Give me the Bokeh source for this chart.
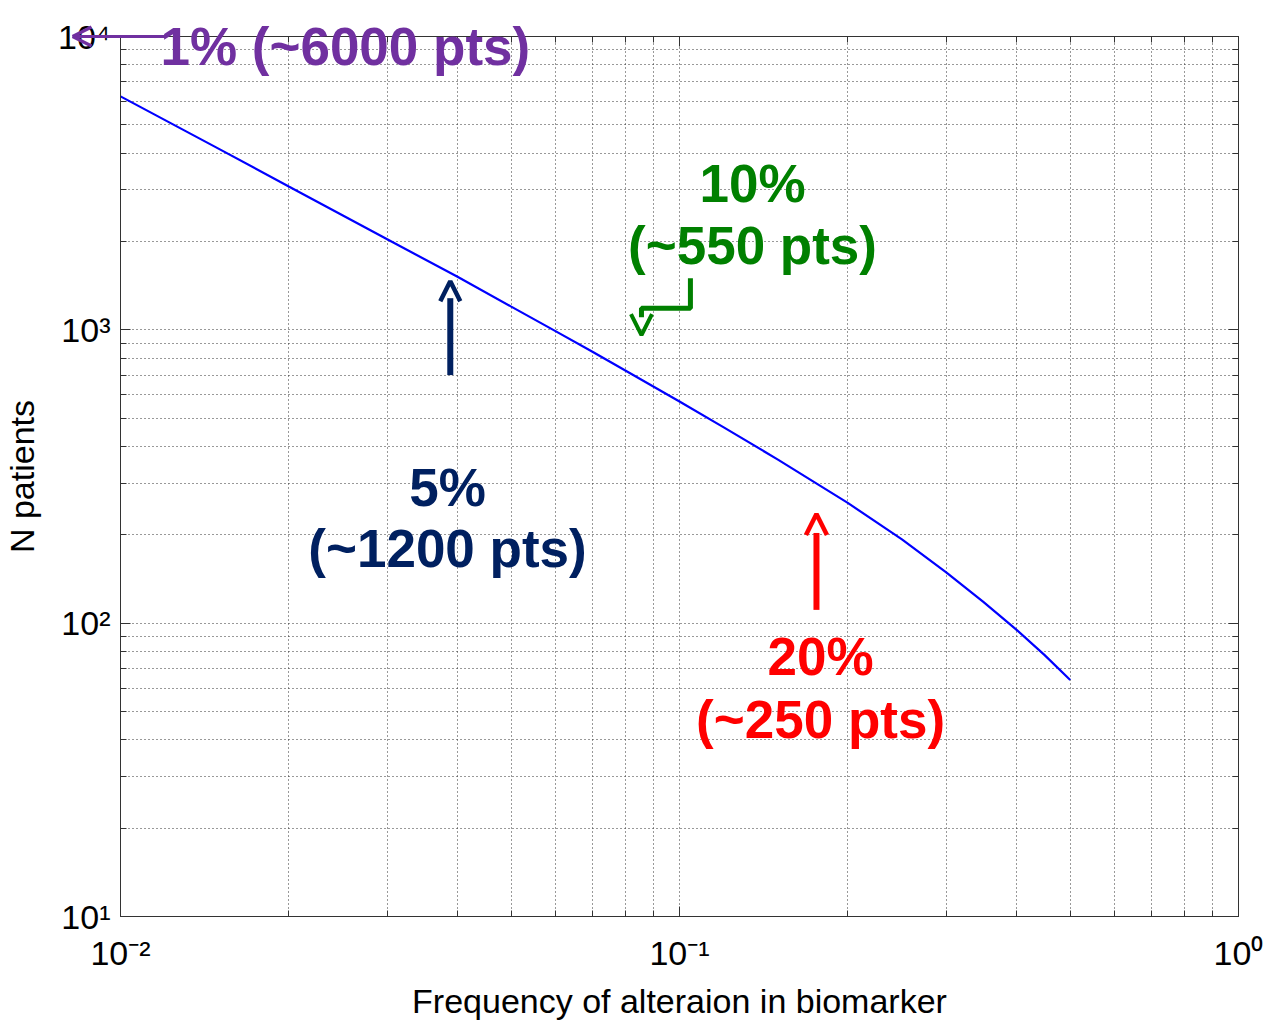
from bokeh.plotting import figure
from bokeh.models import (Arrow, OpenHead, Label, FixedTicker, LogAxis, Range1d)
from bokeh.core.properties import value
from bokeh.embed import file_html
from bokeh.resources import INLINE

# ---- data ----
freq = [0.01, 0.015, 0.02, 0.03, 0.04, 0.05, 0.06, 0.07, 0.08, 0.1, 0.12,
        0.15, 0.2, 0.25, 0.3, 0.35, 0.4, 0.45, 0.5]
n_patients = [6250, 4140, 3080, 2035, 1520, 1200, 990, 840, 727, 570, 465,
              361, 257, 193, 149, 118, 95.2, 77.8, 64]

x_major = [0.01, 0.1, 1.0]
y_major = [10, 100, 1000, 10000]
x_labels = {0.01: "10⁻²", 0.1: "10⁻¹", 1.0: "10⁰"}
y_labels = {10: "10¹", 100: "10²", 1000: "10³", 10000: "10⁴"}

FONT = "Liberation Sans"

FL, FR, FT, FB = 120, 1238, 36, 917

p = figure(width=1266, height=1022, x_axis_type="log", y_axis_type="log",
           x_range=Range1d(0.01, 1.0), y_range=Range1d(10, 10000),
           output_backend="svg", toolbar_location=None,
           min_border_left=FL, min_border_right=1266 - FR,
           min_border_top=FT, min_border_bottom=1022 - FB)
p.background_fill_color = "white"
p.border_fill_color = "white"
p.outline_line_color = "#333333"

x_minor = [m * 10 ** e for e in (-2, -1) for m in range(2, 10)]
y_minor = [m * 10 ** e for e in (1, 2, 3) for m in range(2, 10)]

xt = FixedTicker(ticks=x_major, minor_ticks=x_minor)
yt = FixedTicker(ticks=y_major, minor_ticks=y_minor)
p.xaxis.ticker = xt
p.yaxis.ticker = yt
p.xgrid.ticker = xt
p.ygrid.ticker = yt

for ax, labels in ((p.xaxis, x_labels), (p.yaxis, y_labels)):
    ax.major_label_overrides = labels
    ax.major_label_text_font = FONT
    ax.major_label_text_font_size = "34px"
    ax.major_label_text_color = "black"
    ax.axis_label_text_font = FONT
    ax.axis_label_text_font_size = "34px"
    ax.axis_label_text_font_style = "normal"
    ax.axis_label_text_color = "black"
    ax.axis_line_color = "#333333"
    ax.major_tick_line_color = "#333333"
    ax.minor_tick_line_color = "#333333"
    ax.major_tick_in = 10
    ax.major_tick_out = 0
    ax.minor_tick_in = 6
    ax.minor_tick_out = 0

p.xaxis.axis_label = "Frequency of alteraion in biomarker"
p.yaxis.axis_label = "N patients"
p.xaxis.major_label_standoff = 17
p.yaxis.major_label_standoff = 10
p.xaxis.axis_label_standoff = 7
p.yaxis.axis_label_standoff = 14

# box ticks on top and right
for loc, tk, major in (("above", xt, x_major), ("right", yt, y_major)):
    ax = LogAxis(ticker=tk, major_label_text_font_size="0px", major_tick_in=10, major_tick_out=0,
                 minor_tick_in=6, minor_tick_out=0, axis_line_color="#333333",
                 major_tick_line_color="#333333", minor_tick_line_color="#333333")
    ax.major_label_overrides = {v: "" for v in major}
    p.add_layout(ax, loc)

for g in (p.xgrid, p.ygrid):
    g.grid_line_color = "#333333"
    g.grid_line_dash = "1 3"
    g.grid_line_width = 1
    g.minor_grid_line_color = "#333333"
    g.minor_grid_line_dash = "1 3"
    g.minor_grid_line_width = 1

p.line(freq, n_patients, line_color="#0000FF", line_width=2.2)

PURPLE = "#7030A0"
GREEN = "#008000"
NAVY = "#002060"
RED = "#FF0000"

# 1% arrow: shaft and open head, reaching past the frame's left edge
p.segment(x0=[0.01204, 0.00821, 0.00821], y0=[10000, 10000, 10000],
          x1=[0.00821, 0.008874, 0.008874], y1=[10000, 10773, 9282],
          line_color=PURPLE, line_width=3.2, level="overlay")
# 1% text (overlay level so it can run over the top edge)
p.text(x=[0.01179], y=[9246], text=["1% (~6000 pts)"], text_color=PURPLE,
       text_font=value(FONT), text_font_size=value("53px"), text_font_style="bold",
       text_align="left", text_baseline="middle", level="overlay")

# 5% arrow
p.line([0.0389, 0.0389], [701, 1282], line_color=NAVY, line_width=6)
p.add_layout(Arrow(x_start=0.0389, y_start=1000, x_end=0.0389, y_end=1464,
                   line_alpha=0, end=OpenHead(size=20, line_color=NAVY, line_width=4.5)))
# 20% arrow
p.line([0.1758, 0.1758], [111, 203], line_color=RED, line_width=6)
p.add_layout(Arrow(x_start=0.1758, y_start=150, x_end=0.1758, y_end=235.7,
                   line_alpha=0, end=OpenHead(size=21, line_color=RED, line_width=4.5)))
# 10% bent arrow
p.line([0.1046, 0.1046, 0.0855, 0.0855], [1500, 1185, 1185, 1104], line_color=GREEN, line_width=5)
p.add_layout(Arrow(x_start=0.0855, y_start=1104, x_end=0.0855, y_end=959,
                   line_alpha=0, end=OpenHead(size=21, line_color=GREEN, line_width=4)))

def lab(x, y, t, c):
    p.add_layout(Label(x=x, y=y, text=t, text_color=c,
                       text_font=FONT, text_font_size="53px", text_font_style="bold",
                       text_align="center", text_baseline="middle"))

lab(0.1351, 3158, "10%", GREEN)
lab(0.1351, 1942, "(~550 pts)", GREEN)
lab(0.03846, 291, "5%", NAVY)
lab(0.03846, 179, "(~1200 pts)", NAVY)
lab(0.1788, 76.8, "20%", RED)
lab(0.1788, 46.9, "(~250 pts)", RED)

open("out.html", "w").write(file_html(p, INLINE))
